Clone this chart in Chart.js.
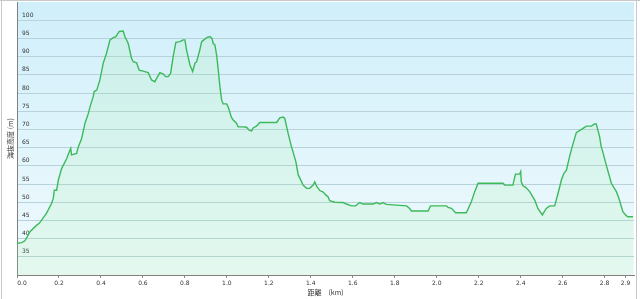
<!DOCTYPE html>
<html><head><meta charset="utf-8">
<script src="https://cdn.jsdelivr.net/npm/chart.js@4.4.0/dist/chart.umd.min.js"></script>
<style>html,body{margin:0;padding:0;background:#fff;}#wrap{width:640px;height:299px;position:relative;}</style>
</head><body><div id="wrap"><canvas id="c" width="640" height="299"></canvas></div>
<script>
const distanceKm = [0.000,0.022,0.038,0.062,0.094,0.106,0.141,0.165,0.173,0.178,0.189,0.197,0.213,0.237,0.252,0.256,0.260,0.284,0.292,0.308,0.324,0.340,0.348,0.363,0.368,0.380,0.395,0.411,0.427,0.443,0.459,0.471,0.487,0.506,0.514,0.530,0.546,0.554,0.570,0.582,0.601,0.625,0.641,0.657,0.665,0.681,0.697,0.708,0.720,0.732,0.744,0.757,0.776,0.792,0.800,0.808,0.824,0.837,0.848,0.856,0.871,0.880,0.895,0.906,0.919,0.929,0.935,0.943,0.951,0.959,0.967,0.975,0.982,0.999,1.006,1.022,1.030,1.046,1.054,1.078,1.094,1.106,1.118,1.125,1.141,1.149,1.157,1.237,1.252,1.268,1.276,1.292,1.308,1.313,1.329,1.340,1.348,1.363,1.380,1.395,1.411,1.419,1.427,1.443,1.459,1.471,1.482,1.490,1.514,1.554,1.570,1.594,1.613,1.633,1.649,1.697,1.713,1.729,1.744,1.760,1.808,1.856,1.871,1.879,1.951,1.959,1.970,2.046,2.054,2.070,2.090,2.141,2.165,2.181,2.197,2.316,2.324,2.363,2.375,2.395,2.400,2.403,2.411,2.424,2.443,2.467,2.482,2.503,2.522,2.538,2.562,2.578,2.594,2.606,2.618,2.633,2.641,2.665,2.697,2.713,2.737,2.752,2.760,2.776,2.784,2.789,2.808,2.832,2.856,2.868,2.887,2.903,2.911,2.935];
const elevationM = [38.7,38.9,39.4,41.9,43.7,44.2,47.0,49.7,51.1,53.3,53.3,56.1,59.3,62.0,64.3,64.8,63.0,63.4,65.2,67.5,71.7,74.4,76.2,79.0,80.4,80.8,83.6,88.2,91.0,94.6,95.2,95.5,96.9,97.0,95.5,93.6,89.5,88.6,88.3,86.3,86.0,85.6,83.6,83.1,84.0,85.6,85.2,84.5,84.5,85.4,90.0,93.9,94.1,94.6,94.6,91.8,87.7,85.9,88.2,88.6,91.8,94.1,94.8,95.3,95.5,95.0,93.6,93.2,90.5,86.3,81.7,78.1,77.0,77.0,76.2,73.3,72.6,71.7,70.7,70.7,70.6,69.8,69.6,70.4,70.9,71.4,71.9,71.9,73.2,73.4,73.0,68.9,65.2,64.3,61.1,57.5,56.6,54.7,53.8,53.8,54.7,55.6,54.5,53.2,52.8,52.0,51.5,50.4,50.0,49.9,49.5,49.0,49.0,49.9,49.5,49.5,49.9,49.5,49.9,49.4,49.2,49.0,48.3,47.6,47.6,47.6,49.0,49.0,48.6,48.3,47.1,47.1,50.1,52.9,55.2,55.2,54.7,54.7,57.7,57.7,58.4,55.6,54.5,54.1,52.9,50.6,48.3,46.5,48.3,49.0,49.0,52.4,56.1,57.9,58.8,62.5,64.3,69.1,70.3,70.9,70.9,71.5,71.5,68.0,65.2,64.3,60.2,55.2,52.9,51.1,47.4,46.3,46.0,46.0];
const xTickValues = [0,0.2,0.4,0.6,0.8,1.0,1.2,1.4,1.6,1.8,2.0,2.2,2.4,2.6,2.8,2.9];
const yTickValues = [35,40,45,50,55,60,65,70,75,80,85,90,95,100];
const xTitle = '距離　(km)';
const yTitle = '海抜高度 (m)';

const points = distanceKm.map((d, i) => ({x: d, y: elevationM[i]}));

const bgPlugin = {
  id: 'bg',
  beforeDraw(chart) {
    const {ctx, chartArea: a} = chart;
    ctx.save();
    ctx.fillStyle = '#ffffff';
    ctx.fillRect(0, 0, chart.width, chart.height);
    const g = ctx.createLinearGradient(0, a.top, 0, a.bottom);
    g.addColorStop(0, '#d0effa');
    g.addColorStop(1, '#f0fafd');
    ctx.fillStyle = g;
    ctx.fillRect(a.left, a.top, a.right - a.left, a.bottom - a.top);
    ctx.strokeStyle = '#c8c8c8';
    ctx.lineWidth = 1;
    ctx.beginPath();
    ctx.moveTo(1.5, 0); ctx.lineTo(1.5, chart.height);
    ctx.moveTo(636.5, 0); ctx.lineTo(636.5, chart.height);
    ctx.moveTo(0, 0.5); ctx.lineTo(chart.width, 0.5);
    ctx.stroke();
    ctx.restore();
    const items = chart.scales.x.getLabelItems();
    if (items && items[0] && !items[0]._shifted) {
      items[0].options.translation[0] += 5;
      items[0]._shifted = true;
    }
  }
};

new Chart(document.getElementById('c'), {
  type: 'line',
  data: {
    datasets: [{
      data: points,
      borderColor: '#3cb95a',
      borderWidth: 1.4,
      backgroundColor: 'rgba(150,240,140,0.13)',
      fill: 'start',
      pointRadius: 0,
      tension: 0
    }]
  },
  options: {
    responsive: false,
    animation: false,
    devicePixelRatio: 1,
    layout: {padding: {left: 0, right: 6, top: 2, bottom: 0}},
    plugins: {legend: {display: false}, tooltip: {enabled: false}},
    scales: {
      x: {
        type: 'linear',
        min: 0,
        max: 2.94,
        afterBuildTicks: s => { s.ticks = xTickValues.map(v => ({value: v})); },
        afterFit: s => { s.height = 24; s.paddingLeft = 0; s.paddingRight = 0; },
        ticks: {
          autoSkip: false,
          maxRotation: 0,
          padding: 2,
          color: '#333',
          font: {family: 'DejaVu Sans', size: 6},
          callback: v => Number(v).toFixed(1)
        },
        grid: {drawOnChartArea: false, drawTicks: true, tickLength: 3, color: '#888'},
        border: {display: true, color: '#808080', width: 1},
        title: {display: true, text: xTitle, color: '#333', padding: {top: 0, bottom: 2},
                font: {family: '"Noto Sans CJK JP"', size: 7}}
      },
      y: {
        type: 'linear',
        min: 30,
        max: 105,
        afterBuildTicks: s => { s.ticks = yTickValues.map(v => ({value: v})); },
        afterFit: s => { s.width = 17; s.paddingTop = 0; s.paddingBottom = 0; },
        ticks: {
          mirror: true,
          padding: 5,
          labelOffset: -5,
          color: '#333',
          font: {family: 'DejaVu Sans', size: 6},
          callback: v => String(v)
        },
        grid: {drawTicks: false, color: '#b8d2db', lineWidth: 1},
        border: {display: true, color: '#808080', width: 1},
        title: {display: true, text: yTitle, color: '#333', padding: {top: 6, bottom: 0},
                font: {family: '"Noto Sans CJK JP"', size: 7}}
      }
    }
  },
  plugins: [bgPlugin]
});
</script>
</body></html>
